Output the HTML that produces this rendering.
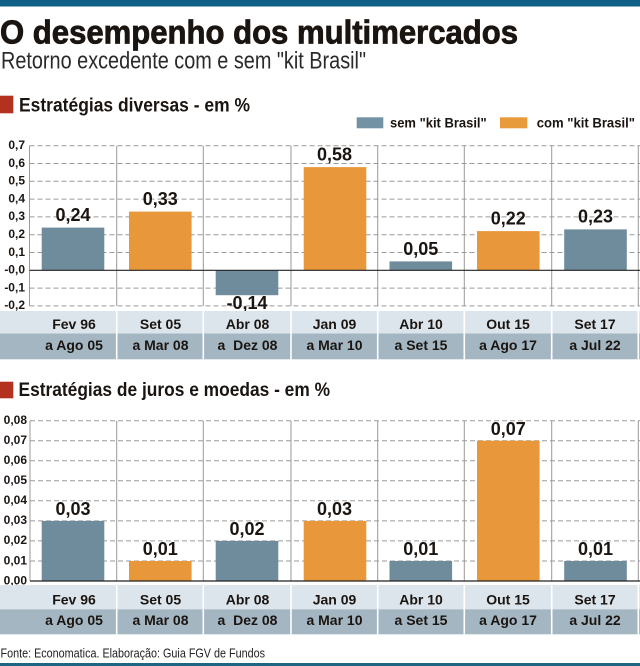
<!DOCTYPE html>
<html><head><meta charset="utf-8"><style>
html,body{margin:0;padding:0;background:#fff;}
svg{display:block;}
text{font-family:"Liberation Sans",sans-serif;}
.b{font-weight:bold;}
</style></head><body>
<svg width="640" height="666" viewBox="0 0 640 666" xmlns="http://www.w3.org/2000/svg">
<rect x="0" y="0" width="640" height="6.5" fill="#0f5f87"/>
<text x="0" y="43.3" font-size="33" class="b" fill="#1b1511" stroke="#1b1511" stroke-width="0.8" textLength="518" lengthAdjust="spacingAndGlyphs">O desempenho dos multimercados</text>
<text x="1" y="68.3" font-size="24" fill="#2a2a2a" textLength="365" lengthAdjust="spacingAndGlyphs">Retorno excedente com e sem "kit Brasil"</text>

<rect x="0" y="95.7" width="13.3" height="17.6" fill="#b3321f"/>
<text x="19" y="111.7" font-size="19" class="b" fill="#1b1511" textLength="231" lengthAdjust="spacingAndGlyphs">Estratégias diversas - em %</text>

<rect x="356.7" y="117.3" width="26.6" height="11" fill="#7393a4"/>
<text x="390" y="127.5" font-size="13.5" class="b" fill="#1b1511" textLength="96.7" lengthAdjust="spacingAndGlyphs">sem "kit Brasil"</text>
<rect x="500" y="117.3" width="27.3" height="11" fill="#e89b3a"/>
<text x="536.7" y="127.5" font-size="13.5" class="b" fill="#1b1511" textLength="98.3" lengthAdjust="spacingAndGlyphs">com "kit Brasil"</text>

<g stroke="#9a9a9a" stroke-width="1" stroke-dasharray="5,3" fill="none">
<line x1="29.5" y1="145.7" x2="640" y2="145.7"/>
<line x1="29.5" y1="163.5" x2="640" y2="163.5"/>
<line x1="29.5" y1="181.3" x2="640" y2="181.3"/>
<line x1="29.5" y1="199.1" x2="640" y2="199.1"/>
<line x1="29.5" y1="216.9" x2="640" y2="216.9"/>
<line x1="29.5" y1="234.7" x2="640" y2="234.7"/>
<line x1="29.5" y1="252.5" x2="640" y2="252.5"/>
<line x1="29.5" y1="288.1" x2="640" y2="288.1"/>
<line x1="29.5" y1="305.9" x2="640" y2="305.9"/>
</g>
<g stroke="#9a9a9a" stroke-width="1">
<line x1="29.5" y1="145.7" x2="29.5" y2="305.9"/>
<line x1="116.7" y1="145.7" x2="116.7" y2="305.9"/>
<line x1="203.3" y1="145.7" x2="203.3" y2="305.9"/>
<line x1="291" y1="145.7" x2="291" y2="305.9"/>
<line x1="377.7" y1="145.7" x2="377.7" y2="305.9"/>
<line x1="464.3" y1="145.7" x2="464.3" y2="305.9"/>
<line x1="551.7" y1="145.7" x2="551.7" y2="305.9"/>
<line x1="638.3" y1="145.7" x2="638.3" y2="305.9"/>
</g>
<g class="b" font-size="12" fill="#1b1511" text-anchor="end">
<text x="25" y="149">0,7</text>
<text x="25" y="166.8">0,6</text>
<text x="25" y="184.6">0,5</text>
<text x="25" y="202.4">0,4</text>
<text x="25" y="220.2">0,3</text>
<text x="25" y="238">0,2</text>
<text x="25" y="255.8">0,1</text>
<text x="25" y="273.6">-0,0</text>
<text x="25" y="291.4">-0,1</text>
<text x="25" y="309.2">-0,2</text>
</g>
<rect x="41.7" y="227.6" width="62.6" height="42.7" fill="#6e8c9c"/>
<rect x="129" y="211.6" width="62.6" height="58.7" fill="#e8983a"/>
<rect x="215.7" y="270.3" width="62.6" height="24.9" fill="#6e8c9c"/>
<rect x="303.7" y="167.1" width="62.6" height="103.2" fill="#e8983a"/>
<rect x="389.5" y="261.4" width="62.6" height="8.9" fill="#6e8c9c"/>
<rect x="477" y="231.1" width="62.6" height="39.2" fill="#e8983a"/>
<rect x="564.2" y="229.4" width="62.6" height="40.9" fill="#6e8c9c"/>
<line x1="29.5" y1="270.3" x2="640" y2="270.3" stroke="#222" stroke-width="1.2"/>
<g class="b" font-size="18" fill="#1b1511" text-anchor="middle">
<text x="73" y="220.8">0,24</text>
<text x="160.3" y="204.8">0,33</text>
<text x="247" y="309">-0,14</text>
<text x="334.5" y="160.3">0,58</text>
<text x="420.8" y="254.8">0,05</text>
<text x="508.3" y="224.3">0,22</text>
<text x="595.5" y="222.6">0,23</text>
</g>
<rect x="0" y="311" width="640" height="22.5" fill="#dce5eb"/>
<rect x="0" y="333.5" width="640" height="25.8" fill="#a3b6c2"/>
<g stroke="#fff" stroke-width="1.6">
<line x1="116.7" y1="311" x2="116.7" y2="359.3"/>
<line x1="203.3" y1="311" x2="203.3" y2="359.3"/>
<line x1="291" y1="311" x2="291" y2="359.3"/>
<line x1="377.7" y1="311" x2="377.7" y2="359.3"/>
<line x1="464.3" y1="311" x2="464.3" y2="359.3"/>
<line x1="551.7" y1="311" x2="551.7" y2="359.3"/>
<line x1="638.3" y1="311" x2="638.3" y2="359.3"/>
</g>
<g class="b" font-size="14" fill="#1b1511" text-anchor="middle">
<text x="74" y="329">Fev 96</text>
<text x="160.5" y="329">Set 05</text>
<text x="247.5" y="329">Abr 08</text>
<text x="334.5" y="329">Jan 09</text>
<text x="421" y="329">Abr 10</text>
<text x="508" y="329">Out 15</text>
<text x="595" y="329">Set 17</text>
<text x="74" y="350">a Ago 05</text>
<text x="160.5" y="350">a Mar 08</text>
<text x="247.5" y="350">a&#160;&#160;Dez 08</text>
<text x="334.5" y="350">a Mar 10</text>
<text x="421" y="350">a Set 15</text>
<text x="508" y="350">a Ago 17</text>
<text x="595" y="350">a Jul 22</text>
</g>

<rect x="0" y="381.7" width="13.3" height="16.6" fill="#b3321f"/>
<text x="18.5" y="396" font-size="19" class="b" fill="#1b1511" textLength="311.5" lengthAdjust="spacingAndGlyphs">Estratégias de juros e moedas - em %</text>

<g stroke="#9a9a9a" stroke-width="1" stroke-dasharray="5,3" fill="none">
<line x1="30" y1="420.7" x2="640" y2="420.7"/>
<line x1="30" y1="440.7" x2="640" y2="440.7"/>
<line x1="30" y1="460.8" x2="640" y2="460.8"/>
<line x1="30" y1="480.8" x2="640" y2="480.8"/>
<line x1="30" y1="500.8" x2="640" y2="500.8"/>
<line x1="30" y1="520.9" x2="640" y2="520.9"/>
<line x1="30" y1="540.9" x2="640" y2="540.9"/>
<line x1="30" y1="561" x2="640" y2="561"/>
</g>
<g stroke="#9a9a9a" stroke-width="1">
<line x1="30" y1="420.7" x2="30" y2="581"/>
<line x1="116.7" y1="420.7" x2="116.7" y2="581"/>
<line x1="203.3" y1="420.7" x2="203.3" y2="581"/>
<line x1="291" y1="420.7" x2="291" y2="581"/>
<line x1="377.7" y1="420.7" x2="377.7" y2="581"/>
<line x1="464.3" y1="420.7" x2="464.3" y2="581"/>
<line x1="551.7" y1="420.7" x2="551.7" y2="581"/>
<line x1="638.3" y1="420.7" x2="638.3" y2="581"/>
</g>
<g class="b" font-size="12" fill="#1b1511" text-anchor="end">
<text x="27" y="424">0,08</text>
<text x="27" y="444">0,07</text>
<text x="27" y="464.1">0,06</text>
<text x="27" y="484.1">0,05</text>
<text x="27" y="504.1">0,04</text>
<text x="27" y="524.2">0,03</text>
<text x="27" y="544.2">0,02</text>
<text x="27" y="564.3">0,01</text>
<text x="27" y="584.3">0,00</text>
</g>
<rect x="41.7" y="520.9" width="62.6" height="60.1" fill="#6e8c9c"/>
<rect x="129" y="561" width="62.6" height="20" fill="#e8983a"/>
<rect x="215.7" y="540.9" width="62.6" height="40.1" fill="#6e8c9c"/>
<rect x="303.7" y="520.9" width="62.6" height="60.1" fill="#e8983a"/>
<rect x="389.5" y="561" width="62.6" height="20" fill="#6e8c9c"/>
<rect x="477" y="440.7" width="62.6" height="140.3" fill="#e8983a"/>
<rect x="564.2" y="561" width="62.6" height="20" fill="#6e8c9c"/>
<line x1="30" y1="581" x2="640" y2="581" stroke="#222" stroke-width="1.2"/>
<g class="b" font-size="18" fill="#1b1511" text-anchor="middle">
<text x="73" y="515">0,03</text>
<text x="160.3" y="555.2">0,01</text>
<text x="247" y="535.1">0,02</text>
<text x="334.5" y="515">0,03</text>
<text x="420.8" y="555.2">0,01</text>
<text x="508.3" y="435">0,07</text>
<text x="595.5" y="555.2">0,01</text>
</g>
<rect x="0" y="585" width="640" height="24.3" fill="#dce5eb"/>
<rect x="0" y="609.3" width="640" height="25" fill="#a3b6c2"/>
<g stroke="#fff" stroke-width="1.6">
<line x1="116.7" y1="585" x2="116.7" y2="634.3"/>
<line x1="203.3" y1="585" x2="203.3" y2="634.3"/>
<line x1="291" y1="585" x2="291" y2="634.3"/>
<line x1="377.7" y1="585" x2="377.7" y2="634.3"/>
<line x1="464.3" y1="585" x2="464.3" y2="634.3"/>
<line x1="551.7" y1="585" x2="551.7" y2="634.3"/>
<line x1="638.3" y1="585" x2="638.3" y2="634.3"/>
</g>
<g class="b" font-size="14" fill="#1b1511" text-anchor="middle">
<text x="74" y="604.3">Fev 96</text>
<text x="160.5" y="604.3">Set 05</text>
<text x="247.5" y="604.3">Abr 08</text>
<text x="334.5" y="604.3">Jan 09</text>
<text x="421" y="604.3">Abr 10</text>
<text x="508" y="604.3">Out 15</text>
<text x="595" y="604.3">Set 17</text>
<text x="74" y="625">a Ago 05</text>
<text x="160.5" y="625">a Mar 08</text>
<text x="247.5" y="625">a&#160;&#160;Dez 08</text>
<text x="334.5" y="625">a Mar 10</text>
<text x="421" y="625">a Set 15</text>
<text x="508" y="625">a Ago 17</text>
<text x="595" y="625">a Jul 22</text>
</g>
<text x="0.5" y="657.5" font-size="12.5" fill="#222" textLength="264.5" lengthAdjust="spacingAndGlyphs">Fonte: Economatica. Elaboração: Guia FGV de Fundos</text>
<rect x="0" y="663" width="640" height="3" fill="#1e6583"/>
</svg>
</body></html>
